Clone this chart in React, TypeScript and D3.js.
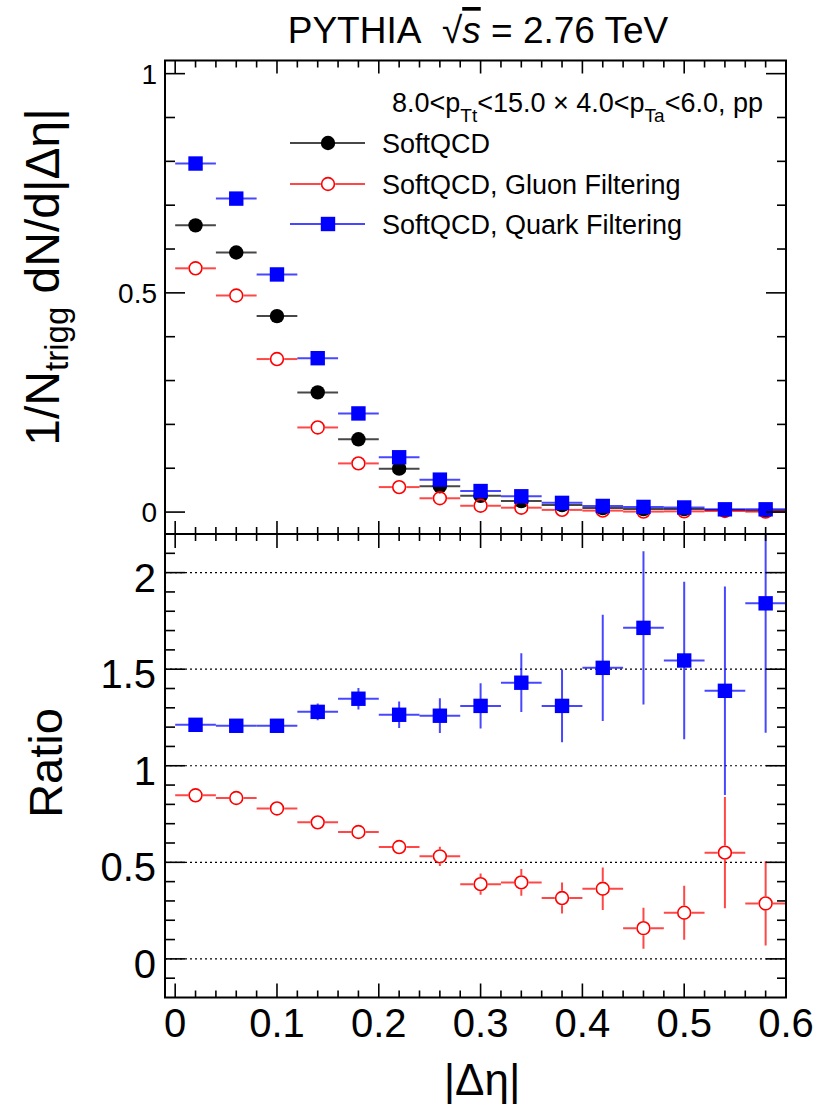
import React from 'react';
import * as d3 from 'd3';

// ---------- data ----------
const etaCenters = [0.02, 0.06, 0.10, 0.14, 0.18, 0.22, 0.26, 0.30, 0.34, 0.38, 0.42, 0.46, 0.50, 0.54, 0.58];
const binHalfWidth = 0.02;

const softQCD = [0.654, 0.592, 0.447, 0.273, 0.166, 0.099, 0.059, 0.037, 0.025, 0.016, 0.0092, 0.0068, 0.0068, 0.0045, 0.0034];
const gluonFiltering = [0.556, 0.494, 0.349, 0.193, 0.111, 0.057, 0.0315, 0.0144, 0.010, 0.005, 0.0033, 0.0011, 0.0016, 0.0025, 0.001];
const quarkFiltering = [0.795, 0.715, 0.542, 0.351, 0.225, 0.125, 0.074, 0.048, 0.036, 0.021, 0.014, 0.0118, 0.0105, 0.0063, 0.0063];

const gluonRatio = [0.847, 0.833, 0.779, 0.707, 0.657, 0.579, 0.531, 0.387, 0.396, 0.315, 0.363, 0.159, 0.239, 0.550, 0.287];
const gluonRatioErr = [0.01, 0.012, 0.015, 0.02, 0.025, 0.03, 0.05, 0.055, 0.069, 0.08, 0.11, 0.106, 0.14, 0.288, 0.218];
const quarkRatio = [1.212, 1.207, 1.207, 1.279, 1.347, 1.264, 1.259, 1.310, 1.430, 1.310, 1.507, 1.714, 1.545, 1.388, 1.841];
const quarkRatioErr = [0.015, 0.015, 0.018, 0.043, 0.056, 0.069, 0.09, 0.117, 0.152, 0.188, 0.275, 0.397, 0.408, 0.54, 0.67];

const xTickValues = [0, 0.1, 0.2, 0.3, 0.4, 0.5, 0.6];
const xTickLabels = ['0', '0.1', '0.2', '0.3', '0.4', '0.5', '0.6'];
const topYTickValues = [0, 0.5, 1];
const topYTickLabels = ['0', '0.5', '1'];
const ratioYTickValues = [0, 0.5, 1, 1.5, 2];
const ratioYTickLabels = ['0', '0.5', '1', '1.5', '2'];

const legendLabels = ['SoftQCD', 'SoftQCD, Gluon Filtering', 'SoftQCD, Quark Filtering'];

// ---------- layout ----------
const W = 819;
const H = 1112;
const X0 = 165;
const X1 = 786;
const TOP_Y0 = 60.5;
const MID_Y = 534;
const BOT_Y1 = 997.5;
const FONT = '"Liberation Sans", Arial, Helvetica, sans-serif';

const xScale = d3.scaleLinear().domain([-0.01, 0.6]).range([X0, X1]);
const yTop = d3.scaleLinear().domain([-0.05, 1.03]).range([MID_Y, TOP_Y0]);
const yRatio = d3.scaleLinear().domain([-0.2, 2.2]).range([BOT_Y1, MID_Y]);

const BLACK = '#000000';
const RED = '#ff0000';
const BLUE = '#0000ff';

type MarkerKind = 'dot' | 'open' | 'square';

const SERIES_STYLE: { color: string; kind: MarkerKind }[] = [
  { color: BLACK, kind: 'dot' },
  { color: RED, kind: 'open' },
  { color: BLUE, kind: 'square' },
];

const R = 7.2; // marker half-size

function Marker({ x, y, kind, color }: { x: number; y: number; kind: MarkerKind; color: string }) {
  if (kind === 'square') return <rect x={x - R} y={y - R} width={2 * R} height={2 * R} fill={color} />;
  if (kind === 'dot') return <circle cx={x} cy={y} r={R} fill={color} />;
  return <circle cx={x} cy={y} r={R - 0.8} fill="none" stroke={color} strokeWidth={1.6} />;
}

function ErrPoint({ cx, cy, xl, xh, yl, yh, kind, color }: any) {
  const lineProps = { stroke: color, strokeWidth: 2, strokeOpacity: 0.72 };
  const gap = kind === 'open' ? R : 0;
  const segs: JSX.Element[] = [];
  if (kind === 'open') {
    if (cx - gap > xl) segs.push(<line key="h1" x1={xl} x2={cx - gap} y1={cy} y2={cy} {...lineProps} />);
    if (xh > cx + gap) segs.push(<line key="h2" x1={cx + gap} x2={xh} y1={cy} y2={cy} {...lineProps} />);
    if (cy - yh > gap) segs.push(<line key="v1" x1={cx} x2={cx} y1={yh} y2={cy - gap} {...lineProps} />);
    if (yl - cy > gap) segs.push(<line key="v2" x1={cx} x2={cx} y1={cy + gap} y2={yl} {...lineProps} />);
  } else {
    segs.push(<line key="h" x1={xl} x2={xh} y1={cy} y2={cy} {...lineProps} />);
    segs.push(<line key="v" x1={cx} x2={cx} y1={yh} y2={yl} {...lineProps} />);
  }
  return (
    <g>
      {segs}
      <Marker x={cx} y={cy} kind={kind} color={color} />
    </g>
  );
}

function Frame({ y0, y1, yScale, majors, minors, xTicksTop, xTicksBottom }: any) {
  const xMinor = d3.range(0, 0.6001, 0.02).filter((v) => Math.abs(v * 10 - Math.round(v * 10)) > 1e-6);
  const stroke = { stroke: '#000', strokeWidth: 1.6 };
  return (
    <g>
      <rect x={X0} y={y0} width={X1 - X0} height={y1 - y0} fill="none" stroke="#000" strokeWidth={2} />
      {majors.map((v: number) => (
        <g key={'M' + v}>
          <line x1={X0} x2={X0 + 20} y1={yScale(v)} y2={yScale(v)} {...stroke} />
          <line x1={X1} x2={X1 - 20} y1={yScale(v)} y2={yScale(v)} {...stroke} />
        </g>
      ))}
      {minors.map((v: number) => (
        <g key={'m' + v}>
          <line x1={X0} x2={X0 + 10} y1={yScale(v)} y2={yScale(v)} {...stroke} />
          <line x1={X1} x2={X1 - 9} y1={yScale(v)} y2={yScale(v)} {...stroke} />
        </g>
      ))}
      {xTickValues.map((v) => (
        <g key={'xM' + v}>
          <line x1={xScale(v)} x2={xScale(v)} y1={y0} y2={y0 + xTicksTop[0]} {...stroke} />
          <line x1={xScale(v)} x2={xScale(v)} y1={y1} y2={y1 - xTicksBottom[0]} {...stroke} />
        </g>
      ))}
      {xMinor.map((v) => (
        <g key={'xm' + v}>
          <line x1={xScale(v)} x2={xScale(v)} y1={y0} y2={y0 + xTicksTop[1]} {...stroke} />
          <line x1={xScale(v)} x2={xScale(v)} y1={y1} y2={y1 - xTicksBottom[1]} {...stroke} />
        </g>
      ))}
    </g>
  );
}

export default function App() {
  const series = [softQCD, gluonFiltering, quarkFiltering];
  const topMinors = d3.range(0, 1.0001, 0.1).filter((v) => Math.abs(v * 2 - Math.round(v * 2)) > 1e-6);
  const ratioMinors = d3.range(-0.1, 2.1001, 0.1).filter((v) => Math.abs(v * 2 - Math.round(v * 2)) > 1e-6);
  const ratios = [
    { vals: gluonRatio, errs: gluonRatioErr, style: SERIES_STYLE[1] },
    { vals: quarkRatio, errs: quarkRatioErr, style: SERIES_STYLE[2] },
  ];
  const legendRows = [143, 184, 224];

  return (
    <svg width={W} height={H} style={{ display: 'block', position: 'absolute', left: 0, top: 0, background: '#fff' }} fontFamily={FONT}>
      <rect x={0} y={0} width={W} height={H} fill="#fff" />
      <defs>
        <clipPath id="clipTop">
          <rect x={X0} y={TOP_Y0} width={X1 - X0} height={MID_Y - TOP_Y0} />
        </clipPath>
        <clipPath id="clipBot">
          <rect x={X0} y={MID_Y} width={X1 - X0} height={BOT_Y1 - MID_Y} />
        </clipPath>
      </defs>

      {/* title */}
      <text x={478} y={43} fontSize={37} textAnchor="middle" fill="#000">
        PYTHIA{'\u00a0\u00a0'}√<tspan fontStyle="italic" textDecoration="overline">s</tspan> = 2.76 TeV
      </text>

      {/* ---------- top panel ---------- */}
      <g clipPath="url(#clipTop)">
        {series.map((vals, si) => (
          <g key={si}>
            {vals.map((v, i) => (
              <ErrPoint
                key={i}
                cx={xScale(etaCenters[i])}
                cy={yTop(v)}
                xl={xScale(etaCenters[i] - binHalfWidth)}
                xh={xScale(etaCenters[i] + binHalfWidth)}
                yl={yTop(v)}
                yh={yTop(v)}
                kind={SERIES_STYLE[si].kind}
                color={SERIES_STYLE[si].color}
              />
            ))}
          </g>
        ))}
      </g>
      <Frame y0={TOP_Y0} y1={MID_Y} yScale={yTop} majors={topYTickValues} minors={topMinors} xTicksTop={[13, 7]} xTicksBottom={[13, 7]} />
      {topYTickValues.map((v, i) => (
        <text key={v} x={157} y={yTop(v) + 10} fontSize={28} textAnchor="end">
          {topYTickLabels[i]}
        </text>
      ))}
      <text transform={`translate(59,277) rotate(-90)`} fontSize={48} textAnchor="middle">
        1/N<tspan fontSize={33} dy={9}>trigg</tspan>
        <tspan dy={-9}> dN/d|Δη|</tspan>
      </text>

      {/* legend */}
      <text x={763} y={112} fontSize={27} textAnchor="end">
        8.0&lt;p<tspan fontSize={19} dy={10}>Tt</tspan>
        <tspan dy={-10}>&lt;15.0 × 4.0&lt;p</tspan>
        <tspan fontSize={19} dy={10}>Ta</tspan>
        <tspan dy={-10}>&lt;6.0, pp</tspan>
      </text>
      {legendLabels.map((lab, i) => (
        <g key={lab}>
          <ErrPoint
            cx={328}
            cy={legendRows[i]}
            xl={290}
            xh={365}
            yl={legendRows[i]}
            yh={legendRows[i]}
            kind={SERIES_STYLE[i].kind}
            color={SERIES_STYLE[i].color}
          />
          <text x={382} y={legendRows[i] + 10} fontSize={27}>
            {lab}
          </text>
        </g>
      ))}

      {/* ---------- ratio panel ---------- */}
      <g>
        {ratioYTickValues.map((v) => (
          <line key={v} x1={X0} x2={X1} y1={yRatio(v)} y2={yRatio(v)} stroke="#000" strokeWidth={1.2} strokeDasharray="2 3" />
        ))}
      </g>
      <g clipPath="url(#clipBot)">
        {ratios.map((s, si) => (
          <g key={si}>
            {s.vals.map((v, i) => (
              <ErrPoint
                key={i}
                cx={xScale(etaCenters[i])}
                cy={yRatio(v)}
                xl={xScale(etaCenters[i] - binHalfWidth)}
                xh={xScale(etaCenters[i] + binHalfWidth)}
                yl={yRatio(v - s.errs[i])}
                yh={yRatio(v + s.errs[i])}
                kind={s.style.kind}
                color={s.style.color}
              />
            ))}
          </g>
        ))}
      </g>
      <Frame y0={MID_Y} y1={BOT_Y1} yScale={yRatio} majors={ratioYTickValues} minors={ratioMinors} xTicksTop={[14, 7]} xTicksBottom={[14, 7]} />
      {ratioYTickValues.map((v, i) => (
        <text key={v} x={156} y={yRatio(v) + 19} fontSize={40} textAnchor="end">
          {ratioYTickLabels[i]}
        </text>
      ))}
      <text transform={`translate(62,763) rotate(-90)`} fontSize={47} textAnchor="middle">
        Ratio
      </text>
      {xTickValues.map((v, i) => (
        <text key={v} x={xScale(v)} y={1037} fontSize={40} textAnchor="middle">
          {xTickLabels[i]}
        </text>
      ))}
      <text x={482} y={1095} fontSize={44} textAnchor="middle">
        |Δη|
      </text>
    </svg>
  );
}
